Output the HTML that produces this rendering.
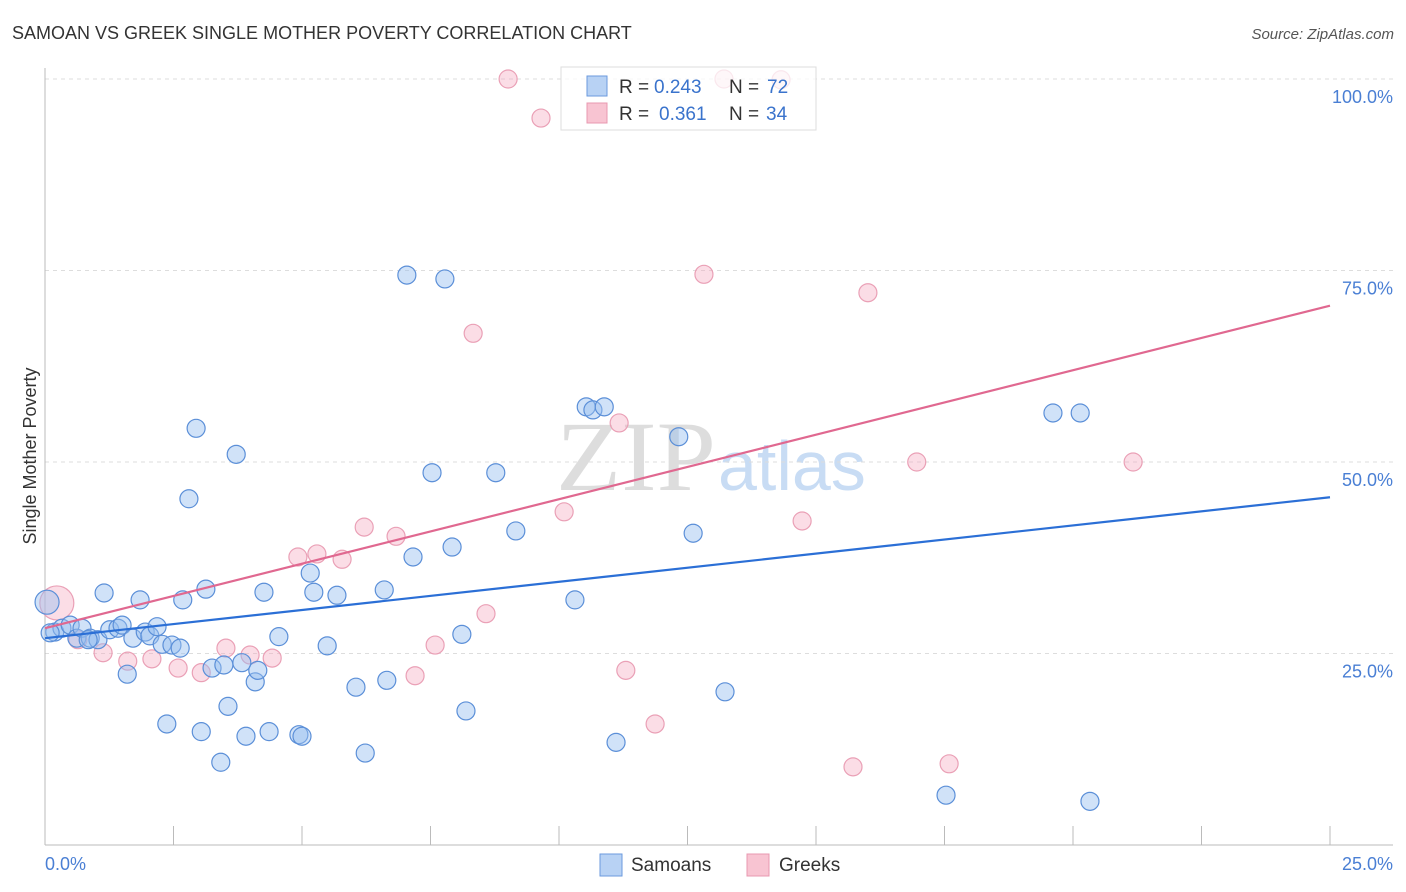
<!DOCTYPE html>
<html><head><meta charset="utf-8"><style>
body{margin:0;background:#fff;font-family:"Liberation Sans",sans-serif}
#wrap{position:relative;width:1406px;height:892px;overflow:hidden}
</style></head><body>
<div id="wrap">
<svg id="svg" width="1406" height="892" xmlns="http://www.w3.org/2000/svg">
<text x="12" y="39" font-size="18" fill="#333">SAMOAN VS GREEK SINGLE MOTHER POVERTY CORRELATION CHART</text>
<text x="1394" y="39" font-size="15" fill="#555" font-style="italic" text-anchor="end">Source: ZipAtlas.com</text>
<text x="36" y="456" font-size="18" fill="#333" text-anchor="middle" transform="rotate(-90 36 456)">Single Mother Poverty</text>
<text x="716" y="490" font-size="100" fill="#ddd" text-anchor="end" font-family="Liberation Serif" textLength="160" lengthAdjust="spacingAndGlyphs">ZIP</text>
<text x="718" y="490" font-size="70" fill="#c8dcf4">atlas</text>
<g id="grid"></g><g id="pts"></g><g id="lines"></g>
<g>
<rect x="561" y="67" width="255" height="63" fill="#fff" fill-opacity="0.75" stroke="#ddd"/>
<rect x="587" y="76" width="20" height="20" fill="#b8d2f4" stroke="#6b9ade"/>
<rect x="587" y="103" width="20" height="20" fill="#f8c4d2" stroke="#e898b0"/>
<g font-size="19" fill="#333">
<text x="619" y="93">R =</text>
<text x="654" y="93" fill="#3a73cc">0.243</text>
<text x="729" y="93">N =</text>
<text x="767" y="93" fill="#3a73cc">72</text>
<text x="619" y="120">R =</text>
<text x="659" y="120" fill="#3a73cc">0.361</text>
<text x="729" y="120">N =</text>
<text x="766" y="120" fill="#3a73cc">34</text>
</g>
</g>
<g>
<rect x="600" y="854" width="22" height="22" fill="#b8d2f4" stroke="#6b9ade"/>
<text x="631" y="871" font-size="19" fill="#333">Samoans</text>
<rect x="747" y="854" width="22" height="22" fill="#f8c4d2" stroke="#e898b0"/>
<text x="779" y="871" font-size="19" fill="#333">Greeks</text>
</g>
</svg>
</div>
<script>
const yTicks=[25,50,75,100];
const xTickLabels=["0.0%","25.0%"];
const samoanX=[0.04,0.19,0.33,0.49,0.62,0.72,0.88,1.03,1.15,1.26,1.42,1.50,1.60,1.71,1.85,1.95,2.04,2.18,2.28,2.37,2.47,2.63,2.68,2.80,2.94,3.04,3.13,3.25,3.42,3.48,3.56,3.72,3.83,3.91,4.09,4.14,4.26,4.36,4.55,4.94,5.00,5.16,5.23,5.49,5.68,6.05,6.23,6.60,6.65,7.04,7.16,7.53,7.78,7.92,8.11,8.19,8.77,9.16,10.31,10.53,10.66,10.88,11.11,12.33,12.61,13.23,17.53,19.61,20.14,20.33,0.84,0.10];
const samoanY=[31.7,27.8,28.3,28.7,27.0,28.3,27.0,26.8,32.9,28.1,28.3,28.7,22.3,27.0,32.0,27.8,27.3,28.5,26.2,15.8,26.1,25.7,32.0,45.2,54.4,14.8,33.4,23.1,10.8,23.5,18.1,51.0,23.8,14.2,21.3,22.8,33.0,14.8,27.2,14.4,14.2,35.5,33.0,26.0,32.6,20.6,12.0,33.3,21.5,74.4,37.6,48.6,73.9,38.9,27.5,17.5,48.6,41.0,32.0,57.2,56.8,57.2,13.4,53.3,40.7,20.0,6.5,56.4,56.4,5.7,26.8,27.7];
const greekX=[0.23,0.64,1.13,1.61,2.08,2.59,3.04,3.52,3.99,4.42,4.92,5.29,5.78,6.21,6.83,7.20,7.59,8.33,8.58,9.01,9.65,10.10,11.17,11.30,11.87,12.82,13.21,14.32,14.73,15.72,16.01,16.96,17.59,21.17];
const greekY=[31.6,26.8,25.1,24.0,24.3,23.1,22.5,25.7,24.8,24.4,37.6,38.0,37.3,41.5,40.3,22.1,26.1,66.8,30.2,100,94.9,43.5,55.1,22.8,15.8,74.5,100,99.9,42.3,10.2,72.1,50.0,10.6,50.0];
const samoanTrend=[27.0,45.4];
const greekTrend=[28.3,70.4];
const NS="http://www.w3.org/2000/svg";
const X=v=>45+v/25*1285, Y=v=>845-v/100*766;
function mk(t,a,p){const e=document.createElementNS(NS,t);for(const k in a)e.setAttribute(k,a[k]);p.appendChild(e);return e;}
const grid=document.getElementById('grid');
yTicks.forEach(t=>{
 const l=mk('line',{x1:45,x2:1393,y1:Y(t),y2:Y(t),stroke:'#ddd','stroke-dasharray':'4,4'},grid);
 
 
 const tx=mk('text',{x:1393,y:Y(t)+24,'font-size':18,fill:'#4a7fd4','text-anchor':'end'},grid);
 tx.textContent=t.toFixed(1)+'%';
 
 
});
const ax=mk('line',{x1:45,x2:45,y1:68,y2:845,stroke:'#bbb'},grid);


const bx=mk('line',{x1:45,x2:1393,y1:845,y2:845,stroke:'#bbb'},grid);


for(let i=0;i<=10;i++){const tk=mk('line',{x1:X(i*2.5),x2:X(i*2.5),y1:826,y2:845,stroke:'#bbb'},grid);
 
 }
[[0,45,'start'],[25,1393,'end']].forEach((d,i)=>{const t=mk('text',{x:d[1],y:870,'font-size':18,fill:'#4a7fd4','text-anchor':d[2]},grid);t.textContent=xTickLabels[i];
 
 });
const pts=document.getElementById('pts');
greekX.forEach((x,i)=>{const c=mk('circle',{cx:X(x),cy:Y(greekY[i]),r:i===0?17:9,fill:'rgba(245,170,192,0.4)',stroke:'#eaa0b6','stroke-width':1.2},pts);
 
 });
samoanX.forEach((x,i)=>{const c=mk('circle',{cx:X(x),cy:Y(samoanY[i]),r:i===0?12:9,fill:'rgba(150,190,240,0.45)',stroke:'#5b8fd8','stroke-width':1.2},pts);
 
 });
const lines=document.getElementById('lines');
const l1=mk('line',{x1:X(0),y1:Y(samoanTrend[0]),x2:X(25),y2:Y(samoanTrend[1]),stroke:'#2b6fd6','stroke-width':2.2},lines);


const l2=mk('line',{x1:X(0),y1:Y(greekTrend[0]),x2:X(25),y2:Y(greekTrend[1]),stroke:'#e06890','stroke-width':2.2},lines);


</script>
</body></html>
